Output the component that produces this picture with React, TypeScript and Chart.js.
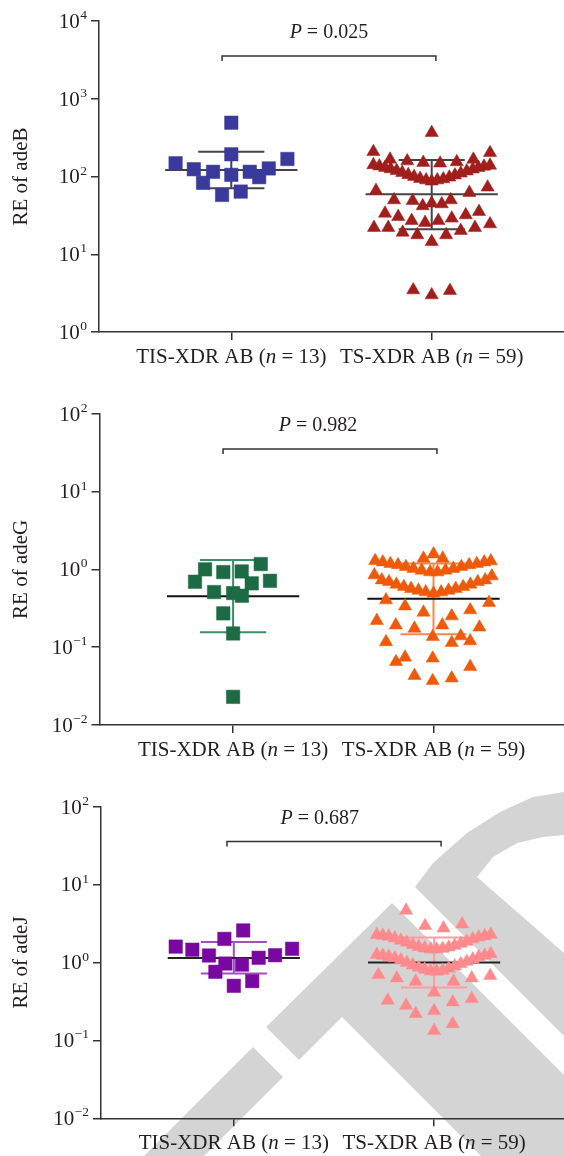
import { useEffect, useRef } from "react";
import { Chart, registerables } from "chart.js";

Chart.register(...registerables);

// ---------- data ----------
const categories = ["TIS-XDR AB", "TS-XDR AB"];
const groupN = [13, 59];
const geneNames = ["adeB", "adeG", "adeJ"];
const pValues = ["0.025", "0.982", "0.687"];
const yExpB = [0, 1, 2, 3, 4];
const yExpGJ = [-2, -1, 0, 1, 2];

// adeB
const adeB_TIS = [492, 193, 148, 124, 115, 105, 115, 127, 168, 83, 98, 58, 64];
const adeB_TIS_jitter = [0, 0, -0.278, -0.187, -0.091, 0, 0.092, 0.187, 0.28, -0.141, 0.139, -0.046, 0.047];
const adeB_TS = [
  366, 3.47, 2.99, 3.4, 208, 202, 166, 158, 151, 148, 154, 166,
  141, 136, 130, 125, 119, 112, 105, 99.5, 93.8, 90, 86.7, 90, 92.9, 97.7, 104, 110, 117, 124, 130, 135, 139,
  65.7, 61.9, 72.6,
  49.9, 48.8, 41.8, 45.2, 44.3, 49.9,
  33.6, 30.4, 27.0, 25.5, 27.0, 29.0, 32.0, 35.3,
  22.0, 22.0, 19.1, 17.7, 14.5, 17.7, 20.1, 22.0, 24.5,
];
const adeB_TS_jitter = [
  0, -0.092, 0, 0.091, -0.291, 0.291, -0.208, -0.122, -0.042, 0.042, 0.125, 0.208,
  -0.291, -0.261, -0.233, -0.205, -0.175, -0.147, -0.117, -0.088, -0.058, -0.028, 0, 0.028, 0.058, 0.088, 0.116, 0.145, 0.175, 0.205, 0.233, 0.261, 0.291,
  -0.278, 0.188, 0.279,
  -0.188, -0.095, -0.045, 0, 0.05, 0.095,
  -0.233, -0.167, -0.1, -0.033, 0.033, 0.1, 0.17, 0.236,
  -0.288, -0.217, -0.145, -0.072, 0, 0.072, 0.145, 0.216, 0.291,
];
const adeB_mean = [121, 59];
const adeB_sdHigh = [208, 163];
const adeB_sdLow = [70.5, 20.9];

// adeG
const adeG_TIS = [1.17, 1.0, 0.923, 0.94, 0.693, 0.713, 0.661, 0.511, 0.496, 0.458, 0.272, 0.15, 0.023];
const adeG_TIS_jitter = [0.138, -0.14, -0.049, 0.043, -0.19, 0.184, 0.093, -0.095, 0, 0.044, -0.049, 0, 0];
const adeG_TS = [
  1.38, 1.57, 1.38,
  1.29, 1.24, 1.18, 1.14, 1.08, 1.02, 0.97, 0.923, 0.923, 0.97, 1.02, 1.08, 1.14, 1.18, 1.24, 1.28,
  0.845, 0.728, 0.693, 0.641, 0.598, 0.564, 0.537, 0.511, 0.491, 0.511, 0.537, 0.564, 0.598, 0.641, 0.693, 0.728, 0.82,
  0.403, 0.337, 0.28, 0.251, 0.3, 0.373, 0.219, 0.192, 0.174, 0.192, 0.18, 0.117, 0.136, 0.114, 0.139, 0.12,
  0.065, 0.074, 0.072, 0.056, 0.043, 0.037, 0.04,
];
const adeG_TS_jitter = [
  -0.05, 0, 0.046,
  -0.291, -0.253, -0.215, -0.177, -0.138, -0.1, -0.059, -0.017, 0.02, 0.06, 0.099, 0.139, 0.178, 0.216, 0.253, 0.286,
  -0.295, -0.258, -0.222, -0.185, -0.148, -0.112, -0.075, -0.039, 0, 0.038, 0.075, 0.111, 0.148, 0.184, 0.221, 0.258, 0.291,
  -0.237, -0.142, -0.05, 0.091, 0.183, 0.277, -0.283, -0.188, -0.095, 0.044, 0.229, -0.237, -0.004, 0.091, 0.136, 0.183,
  -0.187, -0.142, -0.004, 0.183, -0.095, -0.004, 0.091,
];
const adeG_mean = [0.45, 0.419];
const adeG_sdHigh = [1.32, 1.19];
const adeG_sdLow = [0.156, 0.147];

// adeJ
const adeJ_TIS = [2.58, 2.01, 1.6, 1.46, 1.23, 1.15, 1.24, 1.5, 0.97, 0.94, 0.76, 0.577, 0.502];
const adeJ_TIS_jitter = [0.047, -0.047, -0.29, -0.207, -0.124, 0.124, 0.206, 0.291, -0.042, 0.041, -0.092, 0.092, 0];
const adeJ_TS = [
  4.66, 2.96, 2.76, 3.11,
  2.27, 2.22, 2.16, 2.05, 1.92, 1.81, 1.69, 1.59, 1.53, 1.48, 1.48, 1.51, 1.57, 1.65, 1.75, 1.86, 2.0, 2.12, 2.2, 2.29,
  1.26, 1.23, 1.19, 1.14, 1.07, 1.0, 0.925, 0.863, 0.814, 0.775, 0.767, 0.79, 0.838, 0.898, 0.962, 1.03, 1.1, 1.18, 1.23, 1.29,
  0.695, 0.63, 0.571, 0.571, 0.63, 0.675, 0.326, 0.281, 0.412, 0.31, 0.342, 0.22, 0.24, 0.163, 0.133,
];
const adeJ_TS_jitter = [
  -0.14, -0.045, 0.047, 0.14,
  -0.286, -0.256, -0.226, -0.196, -0.166, -0.136, -0.106, -0.077, -0.047, -0.017, 0.013, 0.043, 0.073, 0.103, 0.133, 0.163, 0.193, 0.223, 0.253, 0.283,
  -0.286, -0.256, -0.226, -0.196, -0.166, -0.136, -0.106, -0.077, -0.047, -0.017, 0.013, 0.043, 0.073, 0.103, 0.133, 0.163, 0.193, 0.223, 0.253, 0.283,
  -0.278, -0.186, -0.092, 0.097, 0.188, 0.28, -0.231, -0.14, 0, 0.093, 0.188, -0.092, 0, 0.093, 0,
];
const adeJ_mean = [1.14, 1.0];
const adeJ_sdHigh = [1.83, 2.09];
const adeJ_sdLow = [0.722, 0.478];

// significance brackets (data units)
const bracketY = [3548, 35.2, 35.7];
const bracketX1 = [0.954, 0.95, 0.966];
const bracketX2 = [2.021, 2.017, 2.035];
const pLabelX = [1.487, 1.424, 1.429];

// ---------- assembled per panel ----------
const TIS = [adeB_TIS, adeG_TIS, adeJ_TIS];
const TIS_J = [adeB_TIS_jitter, adeG_TIS_jitter, adeJ_TIS_jitter];
const TS = [adeB_TS, adeG_TS, adeJ_TS];
const TS_J = [adeB_TS_jitter, adeG_TS_jitter, adeJ_TS_jitter];
const MEAN = [adeB_mean, adeG_mean, adeJ_mean];
const SDH = [adeB_sdHigh, adeG_sdHigh, adeJ_sdHigh];
const SDL = [adeB_sdLow, adeG_sdLow, adeJ_sdLow];
const EXPS = [yExpB, yExpGJ, yExpGJ];

// ---------- layout / style ----------
const W = 564;
const LAYOUT = [
  { top: 0, height: 385, areaTop: 21, areaBottom: 332, axisLeft: 99, cat1: 231.3, cat2: 431.7 },
  { top: 385, height: 390, areaTop: 28.7, areaBottom: 340, axisLeft: 99.5, cat1: 233.1, cat2: 433.5 },
  { top: 775, height: 381, areaTop: 31.7, areaBottom: 343.3, axisLeft: 101, cat1: 233.8, cat2: 434.1 },
];
const STYLE = [
  { c1: "#3a3a9c", c2: "#a01f1c", bar1: "#444444", bar2: "#444444", mean: "#444444" },
  { c1: "#1d6b45", c2: "#ee5a0a", bar1: "#3d8c6a", bar2: "#f5894a", mean: "#111111" },
  { c1: "#7808a0", c2: "#ff8a8e", bar1: "#a24fc0", bar2: "#ff9ca0", mean: "#222222" },
];
const FONT = '"Liberation Serif", "Times New Roman", serif';
const TEXT = "#231f20";
const AXIS = "#333333";

const WATERMARK: number[][][] = [
  [[266, 1027], [392, 903], [564, 1075], [564, 1156], [481, 1156], [342, 1017], [299, 1060]],
  [[253, 1047], [283, 1077], [204, 1156], [144, 1156]],
  [[415, 887], [564, 1036], [564, 953], [477, 877], [493, 857], [517, 843], [543, 837], [564, 835], [564, 792], [533, 797], [500, 812], [467, 833], [433, 863]],
];

type Part = { t: string; italic?: boolean };
function drawRich(ctx: CanvasRenderingContext2D, parts: Part[], cx: number, baseline: number, size: number) {
  const widths = parts.map((p) => {
    ctx.font = `${p.italic ? "italic " : ""}${size}px ${FONT}`;
    return ctx.measureText(p.t).width;
  });
  const total = widths.reduce((a, b) => a + b, 0);
  let x = cx - total / 2;
  ctx.textAlign = "left";
  ctx.textBaseline = "alphabetic";
  parts.forEach((p, k) => {
    ctx.font = `${p.italic ? "italic " : ""}${size}px ${FONT}`;
    ctx.fillText(p.t, x, baseline);
    x += widths[k];
  });
}

const overlayPlugin = {
  id: "overlay",
  beforeDraw(chart: any, _a: any, o: any) {
    const i = o.panel;
    if (i !== 2) return;
    const ctx: CanvasRenderingContext2D = chart.ctx;
    ctx.save();
    ctx.translate(0, -LAYOUT[i].top);
    ctx.fillStyle = "#d4d4d4";
    WATERMARK.forEach((poly) => {
      ctx.beginPath();
      poly.forEach(([px, py], k) => (k ? ctx.lineTo(px, py) : ctx.moveTo(px, py)));
      ctx.closePath();
      ctx.fill();
    });
    ctx.restore();
  },
  beforeDatasetsDraw(chart: any, _a: any, o: any) {
    const i = o.panel;
    const ctx: CanvasRenderingContext2D = chart.ctx;
    const x = chart.scales.x;
    const y = chart.scales.y;
    const S = STYLE[i];
    ctx.save();
    ctx.lineWidth = 2;
    [0, 1].forEach((g) => {
      const c = g + 1;
      const xc = x.getPixelForValue(c);
      const yh = y.getPixelForValue(SDH[i][g]);
      const yl = y.getPixelForValue(SDL[i][g]);
      const ym = y.getPixelForValue(MEAN[i][g]);
      ctx.strokeStyle = g === 0 ? S.bar1 : S.bar2;
      ctx.beginPath();
      ctx.moveTo(xc, yh);
      ctx.lineTo(xc, yl);
      ctx.moveTo(x.getPixelForValue(c - 0.165), yh);
      ctx.lineTo(x.getPixelForValue(c + 0.165), yh);
      ctx.moveTo(x.getPixelForValue(c - 0.165), yl);
      ctx.lineTo(x.getPixelForValue(c + 0.165), yl);
      ctx.stroke();
      ctx.strokeStyle = S.mean;
      ctx.beginPath();
      ctx.moveTo(x.getPixelForValue(c - 0.33), ym);
      ctx.lineTo(x.getPixelForValue(c + 0.33), ym);
      ctx.stroke();
    });
    ctx.restore();
  },
  afterDraw(chart: any, _a: any, o: any) {
    const i = o.panel;
    const L = LAYOUT[i];
    const ctx: CanvasRenderingContext2D = chart.ctx;
    const x = chart.scales.x;
    const y = chart.scales.y;
    const area = chart.chartArea;
    ctx.save();
    ctx.fillStyle = TEXT;
    // y tick labels 10^n
    EXPS[i].forEach((e) => {
      const yp = y.getPixelForValue(Math.pow(10, e));
      const expStr = e < 0 ? "\u2212" + -e : String(e);
      ctx.font = `21px ${FONT}`;
      const wTen = ctx.measureText("10").width;
      ctx.font = `13.5px ${FONT}`;
      const wExp = ctx.measureText(expStr).width;
      const right = L.axisLeft - 8 - 4;
      const xTen = right - wExp - wTen - 0.5;
      ctx.textAlign = "left";
      ctx.textBaseline = "alphabetic";
      ctx.font = `21px ${FONT}`;
      ctx.fillText("10", xTen, yp + 6.8);
      ctx.font = `13.5px ${FONT}`;
      ctx.fillText(expStr, xTen + wTen + 0.5, yp - 2);
    });
    // y title
    ctx.save();
    ctx.translate(21.6, (area.top + area.bottom) / 2);
    ctx.rotate(-Math.PI / 2);
    ctx.textAlign = "center";
    ctx.textBaseline = "middle";
    ctx.font = `21px ${FONT}`;
    ctx.fillText("RE of " + geneNames[i], 0, 0);
    ctx.restore();
    // x labels
    [0, 1].forEach((g) => {
      drawRich(
        ctx,
        [{ t: categories[g] + " (" }, { t: "n", italic: true }, { t: " = " + groupN[g] + ")" }],
        x.getPixelForValue(g + 1),
        area.bottom + 31,
        21
      );
    });
    // bracket
    const yb = y.getPixelForValue(bracketY[i]);
    const x1 = x.getPixelForValue(bracketX1[i]);
    const x2 = x.getPixelForValue(bracketX2[i]);
    ctx.strokeStyle = AXIS;
    ctx.lineWidth = 1.5;
    ctx.beginPath();
    ctx.moveTo(x1, yb + 5);
    ctx.lineTo(x1, yb);
    ctx.lineTo(x2, yb);
    ctx.lineTo(x2, yb + 5);
    ctx.stroke();
    drawRich(ctx, [{ t: "P", italic: true }, { t: " = " + pValues[i] }], x.getPixelForValue(pLabelX[i]), yb - 17.7, 20);
    ctx.restore();
  },
};

function buildConfig(i: number): any {
  const L = LAYOUT[i];
  const S = STYLE[i];
  const unit = L.cat2 - L.cat1;
  const xMin = 1 - (L.cat1 - L.axisLeft) / unit;
  const xMax = 2 + (W - L.cat2) / unit;
  const exps = EXPS[i];
  const grid = { display: true, drawOnChartArea: false, drawTicks: true, tickLength: 8, color: AXIS, lineWidth: 1.5 };
  const border = { display: true, color: AXIS, width: 1.5 };
  return {
    type: "scatter",
    data: {
      datasets: [
        {
          data: TIS[i].map((v, k) => ({ x: 1 + TIS_J[i][k], y: v })),
          pointStyle: "rect",
          pointRadius: 9.5,
          backgroundColor: S.c1,
          borderColor: S.c1,
          borderWidth: 0.5,
        },
        {
          data: TS[i].map((v, k) => ({ x: 2 + TS_J[i][k], y: v })),
          pointStyle: "triangle",
          pointRadius: 7.6,
          backgroundColor: S.c2,
          borderColor: S.c2,
          borderWidth: 0.5,
        },
      ],
    },
    options: {
      responsive: false,
      animation: false,
      devicePixelRatio: 1,
      events: [],
      clip: false,
      layout: { autoPadding: false, padding: { top: L.areaTop, left: 0, right: 0, bottom: 0 } },
      plugins: { legend: { display: false }, tooltip: { enabled: false }, overlay: { panel: i } },
      scales: {
        x: {
          type: "linear",
          min: xMin,
          max: xMax,
          afterBuildTicks: (s: any) => {
            s.ticks = [{ value: 1 }, { value: 2 }];
          },
          afterFit: (s: any) => {
            s.height = L.height - L.areaBottom;
          },
          ticks: { display: false },
          grid,
          border,
        },
        y: {
          type: "logarithmic",
          min: Math.pow(10, exps[0]),
          max: Math.pow(10, exps[exps.length - 1]),
          afterBuildTicks: (s: any) => {
            s.ticks = exps.map((e) => ({ value: Math.pow(10, e) }));
          },
          afterFit: (s: any) => {
            s.width = L.axisLeft;
          },
          ticks: { display: false },
          grid,
          border,
        },
      },
    },
    plugins: [overlayPlugin],
  };
}

export default function App() {
  const r0 = useRef<HTMLCanvasElement>(null);
  const r1 = useRef<HTMLCanvasElement>(null);
  const r2 = useRef<HTMLCanvasElement>(null);
  const refs = [r0, r1, r2];
  useEffect(() => {
    const charts = refs.map((r, i) => new Chart(r.current as HTMLCanvasElement, buildConfig(i)));
    return () => charts.forEach((c) => c.destroy());
  }, []);
  return (
    <div style={{ position: "absolute", left: 0, top: 0, width: W, height: 1156, background: "#fff", overflow: "hidden" }}>
      {LAYOUT.map((l, i) => (
        <canvas
          key={i}
          ref={refs[i]}
          width={W}
          height={l.height}
          style={{ position: "absolute", left: 0, top: l.top, width: W, height: l.height }}
        />
      ))}
    </div>
  );
}
